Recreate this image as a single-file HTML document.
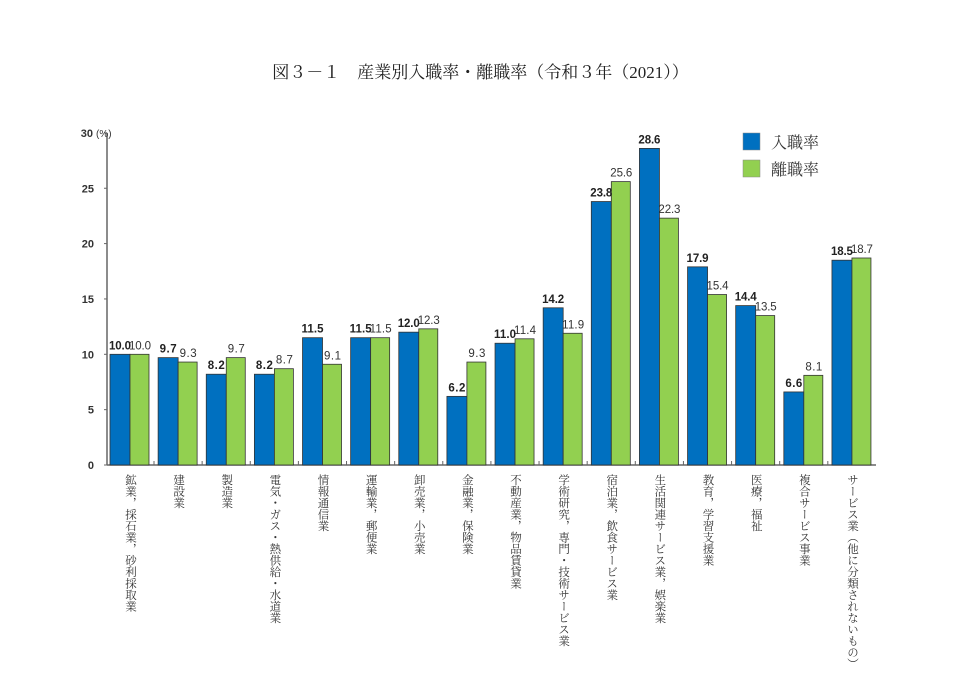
<!DOCTYPE html><html><head><meta charset="utf-8"><style>
body{margin:0;background:#fff;width:961px;height:689px;overflow:hidden;position:relative;font-family:"Liberation Serif","Noto Serif CJK JP",serif}
.lab{position:absolute;top:474px;writing-mode:vertical-rl;white-space:nowrap;font-size:11.5px;color:#333;letter-spacing:0;line-height:13px;font-family:"Liberation Serif","Noto Serif CJK JP",serif}
</style></head><body>
<div style="position:absolute;top:58px;left:0;width:961px;text-align:center;font-size:17px;color:#222;">図３－１　産業別入職率・離職率（令和３年（2021））</div>
<svg width="961" height="689" style="position:absolute;left:0;top:0" font-family="Liberation Sans, sans-serif">
<g id="g"></g>
</svg>
<div id="labs"></div>
<script>
const b=[10.0,9.7,8.2,8.2,11.5,11.5,12.0,6.2,11.0,14.2,23.8,28.6,17.9,14.4,6.6,18.5];
const g=[10.0,9.3,9.7,8.7,9.1,11.5,12.3,9.3,11.4,11.9,25.6,22.3,15.4,13.5,8.1,18.7];
const L=["鉱業，採石業，砂利採取業","建設業","製造業","電気・ガス・熱供給・水道業","情報通信業","運輸業，郵便業","卸売業，小売業","金融業，保険業","不動産業，物品賃貸業","学術研究，専門・技術サービス業","宿泊業，飲食サービス業","生活関連サービス業，娯楽業","教育，学習支援業","医療，福祉","複合サービス事業","サービス業（他に分類されないもの）"];
const y0=465,k=11.07,P=48.13;let s='';
s+='<line x1="107" y1="133" x2="107" y2="465" stroke="#666" stroke-width="1.5"/>';
s+='<line x1="107" y1="465" x2="876" y2="465" stroke="#666" stroke-width="1.5"/>';
for(let v=0;v<=30;v+=5){const y=y0-v*k;s+=`<line x1="104" y1="${y}" x2="107" y2="${y}" stroke="#666"/><text x="${v==30?93:94}" y="${y+4}" font-size="11" font-weight="bold" fill="#333" text-anchor="end">${v}</text>`;}
s+='<text x="96" y="137" font-size="10" fill="#333">(%)</text>';
for(let i=0;i<16;i++){const x=110+P*i;
 const hb=b[i]*k,hg=g[i]*k;
 s+=`<rect x="${x}" y="${y0-hb}" width="20" height="${hb}" fill="#0070c0" stroke="#333" stroke-width="0.8"/>`;
 s+=`<rect x="${x+20}" y="${y0-hg}" width="19" height="${hg}" fill="#92d050" stroke="#333" stroke-width="0.8"/>`;
 const tb=b[i].toFixed(1),tg=g[i].toFixed(1);
 const wb=tb.length>3?22:17, wg=tg.length>3?22:17;
 s+=`<text x="${x+10-wb/2}" y="${y0-hb-5}" font-size="11.5" font-weight="bold" fill="#222" textLength="${wb}" lengthAdjust="spacing">${tb}</text>`;
 s+=`<text x="${x+30-wg/2}" y="${y0-hg-5}" font-size="11.5" fill="#333" textLength="${wg}" lengthAdjust="spacing">${tg}</text>`;
 if(i<15)s+=`<line x1="${x+44}" y1="461" x2="${x+44}" y2="465" stroke="#666"/>`;
}
s+='<rect x="743" y="133" width="17" height="17" fill="#0070c0" stroke="#888" stroke-width="0.5"/><rect x="743" y="160" width="17" height="17" fill="#92d050" stroke="#888" stroke-width="0.5"/>';
s+='<text x="771" y="148" font-size="16" fill="#333" font-family="Noto Serif CJK JP, serif">入職率</text><text x="771" y="175" font-size="16" fill="#333" font-family="Noto Serif CJK JP, serif">離職率</text>';
document.getElementById('g').innerHTML=s;
let h='';for(let i=0;i<16;i++){const c=110+P*i+20;h+=`<div class="lab" style="left:${c-7}px">${L[i]}</div>`;}
document.getElementById('labs').innerHTML=h;
</script>
</body></html>
